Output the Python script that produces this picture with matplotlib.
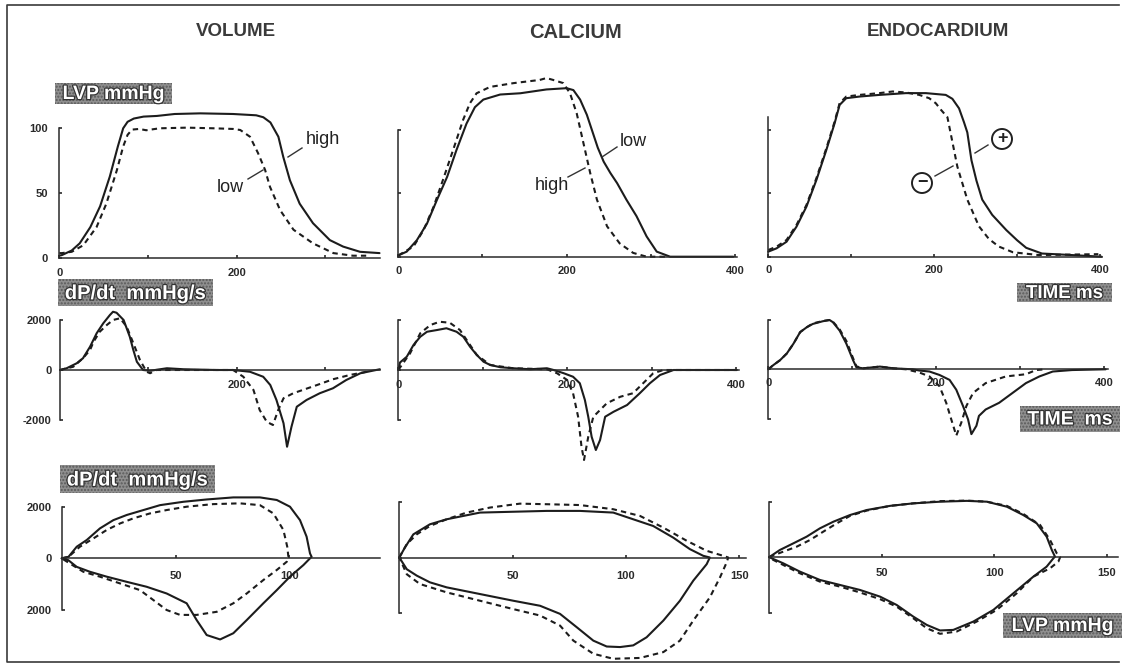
import matplotlib
matplotlib.use('Agg')
import matplotlib.pyplot as plt
from matplotlib.patches import Rectangle, Circle
import matplotlib.patheffects as pe

# ---------------- data ----------------
# Row 1: LVP (mmHg) vs time (ms)
VOL_LVP_HIGH_T = [0, 3, 14, 23, 35, 46, 57, 66, 72, 77, 84, 95, 110, 130, 159, 196, 222, 230, 238, 247, 252.5, 260, 271, 286, 305, 320, 339, 361]
VOL_LVP_HIGH = [2, 2.5, 6, 11.5, 24, 40, 63, 86, 100, 105, 107.5, 109, 109.5, 111, 111.5, 111, 110, 108.5, 104.5, 93.5, 78, 60, 42, 27, 14, 9, 5, 4]
VOL_LVP_LOW_T = [0, 3, 14, 27, 42, 53, 65, 72, 77, 82, 90, 98, 113, 144, 174, 196, 204, 215, 224, 232, 237.5, 249, 264, 286, 309, 331, 346]
VOL_LVP_LOW = [4, 4, 5, 10, 24, 42, 68, 86, 95, 99, 99.5, 98.5, 100, 100.5, 100, 99.5, 98.7, 93.5, 81, 68, 55, 37, 22, 11.5, 4, 2, 2]

CA_LVP_LOW_T = [0, 10, 22, 34, 46, 58, 69, 81, 91, 101, 121, 145, 176, 200, 208, 216, 224, 231, 237, 244, 252, 260, 271, 283, 295, 307, 323, 355, 398]
CA_LVP_LOW = [1, 4, 13, 26, 45, 63, 84, 105, 118, 124, 128, 129, 132, 133, 131.5, 124, 112, 98, 86, 75, 66, 58, 45, 32, 16, 4, 0, 0, 0]
CA_LVP_HIGH_T = [0, 18, 30, 42, 53, 65, 77, 85, 93, 109, 137, 168, 176, 184, 196, 204, 212, 220, 228, 236, 248, 263, 279, 295, 320]
CA_LVP_HIGH = [1, 8, 21, 39.5, 60.5, 84, 108, 121, 129, 134, 137, 139.5, 141, 139.5, 137, 129, 113, 89.5, 66, 45, 24, 10.5, 3, 0, 0]

EN_LVP_PLUS_T = [0, 10, 22, 34, 46, 58, 70, 80, 86, 94, 110, 134, 166, 190, 214, 222, 230, 236, 240, 245, 251, 258, 270, 287, 300, 311, 330, 366, 402]
EN_LVP_PLUS = [4, 6.6, 11.8, 23.7, 39.5, 60.5, 84.2, 105.3, 119.7, 125, 126.3, 127.6, 129, 129, 127.6, 124.5, 117, 106, 98, 76, 60, 45, 33, 21, 13, 7, 2.5, 1.3, 0]
EN_LVP_MINUS_T = [0, 10, 22, 34, 46, 58, 70, 80, 86, 94, 110, 134, 150, 166, 182, 194, 202, 208, 216, 228, 240, 254, 266, 278, 295, 326, 398]
EN_LVP_MINUS = [5.3, 7.9, 13.2, 25, 40.8, 61.9, 85.5, 106.6, 121.1, 126.3, 127.6, 129, 130.3, 129.5, 127.6, 125, 121, 116, 110, 71, 45, 24, 14, 8, 3.5, 1.3, 2]

# Row 2: dP/dt (mmHg/s) vs time (ms)
VOL_DPDT_HIGH_T = [0, 7.5, 19, 26, 34, 41.5, 49, 56.5, 60, 64, 72, 79, 83, 87, 94, 102, 121, 140, 177, 196, 215, 230, 238, 245, 253, 257, 262, 268, 279, 294, 309, 324, 340, 362]
VOL_DPDT_HIGH = [0, 70, 270, 470, 930, 1470, 1870, 2200, 2330, 2290, 2000, 1330, 800, 330, 0, -30, 70, 30, 0, 0, -70, -270, -600, -1200, -2130, -3070, -2270, -1470, -1200, -930, -730, -400, -130, 30]
VOL_DPDT_LOW_T = [0, 15, 26, 34, 38, 41.5, 45, 53, 60, 68, 75.5, 83, 90.5, 98, 102, 109, 158, 196, 207.5, 219, 226, 234, 241, 247, 253, 264, 291, 309, 328, 347]
VOL_DPDT_LOW = [0, 130, 470, 800, 1130, 1330, 1530, 1800, 2000, 2070, 1730, 1070, 400, -70, -130, 0, 0, 0, -270, -800, -1600, -2070, -2200, -1600, -1130, -930, -600, -370, -200, -70]

CA_DPDT_LOW_T = [0, 2, 10, 18, 26, 34, 46, 57, 69, 77, 85, 93, 101, 109, 121, 136, 156, 176, 184, 196, 207, 215, 221, 225, 229, 234, 239, 245, 255, 271, 286, 298, 310, 326, 401]
CA_DPDT_LOW = [0, 300, 530, 1000, 1330, 1530, 1600, 1670, 1530, 1330, 930, 600, 330, 200, 110, 70, 30, 70, 0, -130, -270, -530, -1200, -1870, -2670, -3200, -2800, -1870, -1670, -1400, -930, -530, -200, 0, 0]
CA_DPDT_HIGH_T = [0, 14, 26, 38, 49, 61, 73, 81, 93, 109, 136, 176, 188, 200, 207, 213, 217, 220, 225, 231, 247, 263, 278, 290, 302, 314, 401]
CA_DPDT_HIGH = [0, 670, 1470, 1800, 1930, 1890, 1600, 1200, 600, 200, 70, 30, -130, -400, -930, -1870, -3070, -3600, -2670, -1870, -1330, -1070, -930, -530, -130, 0, 0]

EN_DPDT_PLUS_T = [0, 6, 14, 22, 30, 38, 46, 53, 65, 73, 77, 85, 93, 101, 105, 113, 133, 149, 172, 180, 192, 204, 216, 224, 232, 238, 242, 248, 251, 259, 275, 291, 307, 323, 339, 362, 402]
EN_DPDT_PLUS = [0, 170, 370, 640, 1040, 1510, 1710, 1840, 1950, 2000, 1910, 1570, 1040, 370, 80, 40, 110, 40, 0, -50, -90, -230, -430, -830, -1490, -2030, -2630, -2290, -1890, -1630, -1360, -960, -560, -290, -90, -30, 0]
EN_DPDT_MINUS_T = [0, 6, 14, 22, 30, 38, 46, 53, 65, 73, 77, 85, 93, 101, 105, 113, 133, 149, 164, 180, 192, 204, 212, 218, 224, 230, 236, 244, 259, 283, 307, 319, 330]
EN_DPDT_MINUS = [0, 170, 370, 640, 1040, 1510, 1710, 1860, 1960, 2000, 1930, 1620, 1150, 450, 120, 40, 110, 40, 0, -130, -290, -690, -1360, -2030, -2690, -2160, -1490, -960, -560, -290, -200, -30, 0]

# Row 3: dP/dt (mmHg/s) vs LVP (mmHg) loops
VOL_LOOP_HIGH_P = [0, 3, 6.6, 11, 16.8, 22.7, 28.6, 35.9, 43.2, 53.4, 63.7, 75.4, 87.1, 94.5, 100.3, 104.7, 107.6, 109.1, 109.8, 109.1, 106.2, 100.3, 94.5, 88.6, 81.3, 75.4, 69.6, 63.7, 59.3, 54.9, 46.1, 37.3, 28.6, 19.8, 12.4, 6.6, 2.9, 0]
VOL_LOOP_HIGH_D = [0, 60, 450, 710, 1160, 1480, 1680, 1870, 2060, 2190, 2280, 2360, 2360, 2260, 2000, 1480, 840, 190, 60, 0, -260, -710, -1230, -1740, -2390, -2900, -3140, -2970, -2390, -1740, -1360, -1100, -910, -710, -520, -330, -70, 0]
VOL_LOOP_LOW_P = [0, 3, 8, 13.9, 19.8, 25.6, 31.5, 38.8, 46.1, 54.9, 66.6, 78.3, 87.1, 93, 97.4, 99.1, 99.6, 98.9, 94.5, 88.6, 81.3, 75.4, 68.1, 59.3, 52, 46.1, 40.2, 34.4, 25.6, 16.8, 9.5, 3.6, 0]
VOL_LOOP_LOW_D = [0, 60, 450, 770, 1100, 1350, 1550, 1740, 1870, 2000, 2100, 2130, 2060, 1740, 1100, 450, 60, -130, -450, -840, -1360, -1740, -2070, -2190, -2190, -2000, -1610, -1230, -970, -710, -520, -200, 0]

CA_LOOP_LOW_P = [0, 2.5, 6.2, 13.5, 20.9, 35.6, 50.3, 65, 79.7, 94.4, 103.2, 112, 120.9, 128.2, 134.1, 137, 135.6, 129.7, 123.8, 116.5, 109.1, 103.2, 97.4, 91.5, 85.6, 78.3, 70.9, 62.1, 50.3, 35.6, 20.9, 13.5, 7.7, 3.3, 0]
CA_LOOP_LOW_D = [0, 360, 830, 1190, 1370, 1610, 1640, 1670, 1670, 1610, 1370, 1130, 710, 300, 60, 0, -240, -830, -1550, -2260, -2860, -3150, -3210, -3190, -2980, -2500, -2020, -1730, -1550, -1310, -1070, -890, -650, -420, 0]
CA_LOOP_HIGH_P = [0, 3.3, 7.7, 13.5, 20.9, 29.7, 40, 53.2, 65, 79.7, 94.4, 106.2, 116.5, 126.8, 135.6, 142.9, 145.1, 144.4, 141.5, 137, 129.7, 123.8, 116.5, 106.2, 94.4, 85.6, 76.8, 70.9, 62.1, 50.3, 35.6, 20.9, 9.1, 3.3, 0]
CA_LOOP_HIGH_D = [0, 480, 830, 1130, 1370, 1610, 1790, 1930, 1910, 1880, 1730, 1490, 1070, 600, 240, 60, 0, -180, -710, -1430, -2260, -2980, -3390, -3600, -3630, -3450, -2980, -2440, -2080, -1850, -1550, -1250, -950, -600, 0]

EN_LOOP_PLUS_P = [0, 0.3, 4.7, 10.7, 16.6, 22.5, 28.5, 35.9, 43.3, 53.7, 64, 75.9, 87.8, 96.7, 105.6, 112.9, 118.9, 123.3, 125.6, 127, 126.3, 123.3, 117.4, 108.5, 99.6, 90.7, 81.8, 75.9, 70, 64, 56.6, 49.2, 40.3, 31.4, 22.5, 13.6, 6.2, 1.1, 0]
EN_LOOP_PLUS_D = [0, 20, 260, 500, 740, 1040, 1280, 1520, 1700, 1850, 1940, 2000, 2030, 2000, 1820, 1520, 1220, 740, 260, 20, -40, -340, -700, -1300, -1900, -2320, -2620, -2640, -2440, -2140, -1720, -1420, -1180, -1000, -820, -520, -220, -40, 0]
EN_LOOP_MINUS_P = [0, 0.3, 6.2, 12.2, 18.1, 24, 30, 35.9, 43.3, 53.7, 64, 75.9, 87.8, 96.7, 105.6, 112.9, 120.4, 124.8, 127.8, 129.3, 128.5, 124.8, 117.4, 110, 101.1, 92.2, 83.3, 75.9, 70, 64, 56.6, 49.2, 40.3, 31.4, 22.5, 13.6, 6.2, 1.1, 0]
EN_LOOP_MINUS_D = [0, 20, 200, 380, 620, 920, 1220, 1490, 1680, 1850, 1940, 2020, 2040, 2000, 1850, 1560, 1160, 620, 140, 0, -160, -400, -700, -1300, -1900, -2320, -2680, -2760, -2560, -2200, -1780, -1510, -1270, -1060, -880, -580, -280, -70, 0]

COLUMN_TITLES = ["VOLUME", "CALCIUM", "ENDOCARDIUM"]

# ---------------- figure ----------------
W, H = 1124, 672
fig = plt.figure(figsize=(W / 100, H / 100), dpi=100)
fig.patch.set_facecolor('white')
plt.rcParams['font.family'] = ['Liberation Sans', 'DejaVu Sans']

INK = '#1c1c1c'
SOLID = dict(color=INK, lw=1.5, solid_capstyle='round', solid_joinstyle='round', clip_on=False)
DASH = dict(color=INK, lw=1.5, ls=(0, (2.6, 2.0)), clip_on=False)


def panel(xa, pxa, xb, pxb, ya, pya, yb, pyb, xlim, ylim):
    sx = (pxb - pxa) / (xb - xa)
    sy = (pyb - pya) / (yb - ya)
    L = pxa + (xlim[0] - xa) * sx
    R = pxa + (xlim[1] - xa) * sx
    B = pya + (ylim[0] - ya) * sy
    T = pya + (ylim[1] - ya) * sy
    ax = fig.add_axes([L / W, 1 - B / H, (R - L) / W, (B - T) / H])
    ax.set_xlim(xlim)
    ax.set_ylim(ylim)
    ax.patch.set_alpha(0)
    for s in ['top', 'right']:
        ax.spines[s].set_visible(False)
    return ax


def style(ax, ybounds, xend, xticks, xlabels, yticks, ylabels, xpad, ypad):
    ax.spines['left'].set_bounds(*ybounds)
    ax.spines['bottom'].set_position(('data', 0))
    ax.spines['bottom'].set_bounds(0, xend)
    for s in ['left', 'bottom']:
        ax.spines[s].set_linewidth(1.1)
        ax.spines[s].set_color('#2a2a2a')
    ax.set_xticks(xticks)
    ax.set_xticklabels(xlabels)
    ax.set_yticks(yticks)
    ax.set_yticklabels(ylabels)
    ax.tick_params(axis='x', direction='in', length=2.5, width=1.2, pad=xpad,
                   labelsize=8, colors='#2a2a2a')
    ax.tick_params(axis='y', direction='in', length=2.5, width=1.2, pad=ypad,
                   labelsize=8, colors='#2a2a2a')
    for lab in ax.get_xticklabels() + ax.get_yticklabels():
        lab.set_fontweight('bold')


# Row 1
a = panel(0, 59.3, 200, 236.7, 0, 258.3, 100, 128.3, (0, 380), (0, 120))
a.plot(VOL_LVP_HIGH_T, VOL_LVP_HIGH, **SOLID)
a.plot(VOL_LVP_LOW_T, VOL_LVP_LOW, **DASH)
style(a, (0, 100), 362, [0, 100, 200, 300], ['0', '', '200', ''], [0, 50, 100], ['0', '50', '100'], 7, 8)

a = panel(0, 398.3, 400, 735, 0, 256.7, 100, 130, (0, 410), (0, 150))
a.plot(CA_LVP_LOW_T, CA_LVP_LOW, **SOLID)
a.plot(CA_LVP_HIGH_T, CA_LVP_HIGH, **DASH)
style(a, (0, 100), 402, [0, 100, 200, 300, 400], ['0', '', '200', '', '400'], [0, 50, 100], ['', '', ''], 7, 6)

a = panel(0, 768.3, 400, 1100, 0, 256.7, 50, 193.3, (0, 410), (0, 150))
a.plot(EN_LVP_PLUS_T, EN_LVP_PLUS, **SOLID)
a.plot(EN_LVP_MINUS_T, EN_LVP_MINUS, **DASH)
style(a, (0, 110), 402, [0, 100, 200, 300, 400], ['0', '', '200', '', '400'], [0, 50, 100], ['', '', ''], 6, 6)

# Row 2
a = panel(0, 60, 200, 236.7, 0, 370, 2000, 320, (0, 380), (-3500, 2600))
a.plot(VOL_DPDT_HIGH_T, VOL_DPDT_HIGH, **SOLID)
a.plot(VOL_DPDT_LOW_T, VOL_DPDT_LOW, **DASH)
style(a, (-2000, 2000), 362, [100, 200, 300], ['', '200', ''], [-2000, 0, 2000], ['-2000', '0', '2000'], 7, 6)

a = panel(0, 398.3, 400, 736, 0, 370, 2000, 320, (0, 410), (-3800, 2600))
a.plot(CA_DPDT_LOW_T, CA_DPDT_LOW, **SOLID)
a.plot(CA_DPDT_HIGH_T, CA_DPDT_HIGH, **DASH)
style(a, (-2000, 2000), 403, [0, 100, 200, 300, 400], ['0', '', '200', '', '400'], [-2000, 0, 2000], ['', '', ''], 7, 6)

a = panel(0, 768.3, 400, 1104, 0, 369.3, 2000, 320, (0, 410), (-3800, 2600))
a.plot(EN_DPDT_PLUS_T, EN_DPDT_PLUS, **SOLID)
a.plot(EN_DPDT_MINUS_T, EN_DPDT_MINUS, **DASH)
style(a, (-2000, 2000), 405, [0, 100, 200, 300, 400], ['0', '', '200', '', '400'], [-2000, 0, 2000], ['', '', ''], 6, 6)

# Row 3
a = panel(0, 61.7, 100, 289.3, 2000, 506.7, -2000, 610, (0, 145), (-3800, 2800))
a.plot(VOL_LOOP_HIGH_P, VOL_LOOP_HIGH_D, **SOLID)
a.plot(VOL_LOOP_LOW_P, VOL_LOOP_LOW_D, **DASH)
style(a, (-2000, 2000), 140, [50, 100], ['50', '100'], [-2000, 0, 2000], ['2000', '0', '2000'], 9, 7)

a = panel(0, 399.3, 150, 739.3, 2000, 501.7, -2000, 613.3, (0, 160), (-3900, 2600))
a.plot(CA_LOOP_LOW_P, CA_LOOP_LOW_D, **SOLID)
a.plot(CA_LOOP_HIGH_P, CA_LOOP_HIGH_D, **DASH)
style(a, (-2000, 2000), 153, [50, 100, 150], ['50', '100', '150'], [-2000, 0, 2000], ['', '', ''], 10, 6)

a = panel(0, 769.3, 150, 1106.7, 2000, 501.7, -2000, 612.7, (0, 160), (-3300, 2600))
a.plot(EN_LOOP_PLUS_P, EN_LOOP_PLUS_D, **SOLID)
a.plot(EN_LOOP_MINUS_P, EN_LOOP_MINUS_D, **DASH)
style(a, (-2000, 2000), 155, [50, 100, 150], ['50', '100', '150'], [-2000, 0, 2000], ['', '', ''], 8, 6)

# ---------------- overlay (pixel coordinates) ----------------
ov = fig.add_axes([0, 0, 1, 1])
ov.set_xlim(0, W)
ov.set_ylim(H, 0)
ov.axis('off')
ov.set_zorder(10)

# frame (top, left, bottom)
ov.plot([1119, 7, 7, 1119], [5, 5, 662, 662], color='#3a3a3a', lw=1.2)

# column titles
for txt, x, fs in zip(COLUMN_TITLES, [236, 576, 938], [13.5, 14.5, 13.5]):
    ov.text(x, 32, txt, ha='center', va='center', fontsize=fs, fontweight='bold', color='#3a3a3a')


def gbox(x0, x1, y0, y1, txt, fs):
    ov.add_patch(Rectangle((x0, y0), x1 - x0, y1 - y0, facecolor='#8f8f8f', edgecolor='#5a5a5a',
                           hatch='.....', lw=0))
    t = ov.text((x0 + x1) / 2, (y0 + y1) / 2 + 1, txt, ha='center', va='center', fontsize=fs,
                fontweight='bold', color='white')
    t.set_path_effects([pe.withStroke(linewidth=1.8, foreground='#333333')])


gbox(55, 172, 83, 104, 'LVP mmHg', 14)
gbox(58, 213, 279, 306, 'dP/dt  mmHg/s', 14.5)
gbox(60, 215, 465, 493, 'dP/dt  mmHg/s', 14.5)
gbox(1017, 1112, 283, 302, 'TIME ms', 13.5)
gbox(1020, 1120, 406, 432, 'TIME  ms', 14)
gbox(1003, 1122, 613, 638, 'LVP mmHg', 14)

# curve labels with leaders
lab = dict(fontsize=13, color='#222', ha='center', va='center')
ov.text(323, 140, 'high', **lab)
ov.plot([302, 288], [148, 157], color='#333', lw=1)
ov.text(230, 187, 'low', **lab)
ov.plot([248, 263], [179, 170], color='#333', lw=1)
ov.text(633, 142, 'low', **lab)
ov.plot([617, 602], [147, 157], color='#333', lw=1)
ov.text(552, 185, 'high', **lab)
ov.plot([568, 585], [177, 168], color='#333', lw=1)

# plus / minus markers
for cx, cy, sym in [(1002, 139, '+'), (922, 183, '\u2212')]:
    ov.add_patch(Circle((cx, cy), 10, facecolor='white', edgecolor='#222', lw=1.4))
    ov.text(cx, cy, sym, ha='center', va='center', fontsize=13, fontweight='bold', color='#222')
ov.plot([988, 975], [145, 153], color='#333', lw=1)
ov.plot([935, 953], [176, 166], color='#333', lw=1)

fig.savefig('out.png', dpi=100, facecolor='white')
